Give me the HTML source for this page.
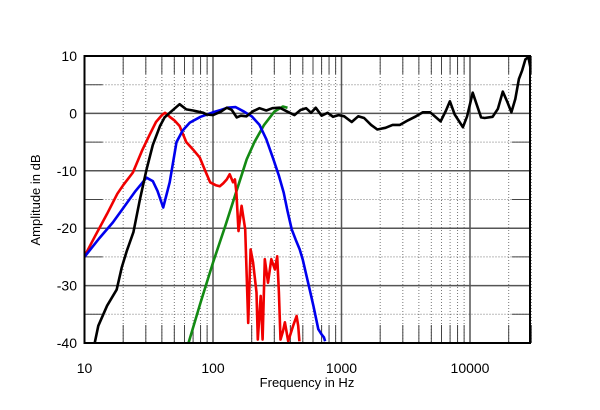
<!DOCTYPE html>
<html><head><meta charset="utf-8"><style>
html,body{margin:0;padding:0;background:#fff;}
svg{display:block;font-family:"Liberation Sans",Arial,sans-serif;}
</style></head><body>
<svg id="chart" width="600" height="410" viewBox="0 0 600 410"></svg>
<script>
const xTicks=[10,100,1000,10000];
const xTickLabels=["10","100","1000","10000"];
const yTicks=[10,0,-10,-20,-30,-40];
const yTickLabels=["10","0","-10","-20","-30","-40"];
const blackF=[12,12.8,15,17.8,19.5,21.3,24,27,30.4,34,38.7,42,46,50,55,62,70,84,89,100,115,128,140,153,165,182,206,230,260,290,330,380,430,480,530,580,630,700,780,860,950,1050,1200,1350,1500,1700,1900,2200,2500,2850,3300,3800,4300,4900,5900,6500,6980,7600,8800,9500,10500,11300,12200,13000,15000,16500,18000,19500,21000,22500,24000,25500,27000,28500,29500,30000];
const blackV=[-40,-37,-33.5,-30.7,-26.8,-24,-20.7,-15,-9.8,-5.5,-2.2,-0.7,0.1,0.8,1.6,0.7,0.5,0.1,-0.2,-0.3,0.3,1.0,0.6,-0.7,-0.4,-0.5,0.4,0.9,0.5,0.9,1.0,0.3,-0.3,0.6,0.9,0.1,1.0,-0.4,0.1,-0.6,-0.3,-0.5,-1.5,-0.5,-0.8,-2.0,-2.8,-2.5,-2.0,-2.0,-1.2,-0.5,0.2,0.2,-1.4,0.5,2.1,-0.2,-2.4,-0.5,3.6,1.5,-0.7,-0.8,-0.6,0.8,3.8,2.0,0.2,2.5,6.0,7.5,9.4,9.8,8.0,3.8];
const redF=[10,12,15,18,20,23.8,28,32,36,40,42.3,46,50,55,62,70,79,87,95,105,113,120,128,135,143,148,152,158,167,178,183,188,196,205,218,223,235,243,253,268,284,303,316,326,335,350,363,385,420,447,460,470];
const redV=[-24.9,-21.5,-17.5,-14,-12.5,-10.3,-6.5,-3.8,-1.5,-0.3,0.1,-0.6,-1.2,-2.2,-5,-6.3,-7.7,-10,-12,-12.5,-12.7,-12.2,-11.5,-10.6,-12,-11.5,-13.8,-20.5,-16.1,-20.2,-28.3,-36.5,-23.7,-26,-31.2,-39.4,-31.8,-39.4,-25.4,-29.5,-25.4,-27.2,-24.9,-31.2,-39.4,-38,-36.4,-39.7,-37,-35.3,-37,-39.7];
const blueF=[10,13,16.6,20,25,30.4,34,37,41,46,52,58,66,80,100,115,130,150,175,200,230,260,295,325,355,380,410,440,473,500,534,570,605,660,700,730,745];
const blueV=[-25,-21.8,-19,-16.5,-13.5,-11.2,-11.8,-13.5,-16.4,-12,-5,-3,-1.6,-0.6,0.2,0.6,1.0,1.1,0.3,-0.5,-2,-4.5,-8,-10.8,-13.8,-17,-20.2,-22,-23.7,-25.5,-28.3,-31,-33.6,-37.6,-38.5,-39,-39.7];
const greenF=[64.5,80,100,125,150,183,210,250,300,350,380];
const greenV=[-40,-33,-26,-19.5,-14,-8,-5,-2,0.3,1.2,1.0];

const L=84.5,R=530,T=56,B=343,DEC=128.5;
const xs=f=>L+(Math.log10(f)-1)*DEC;
const ys=v=>T+(10-v)*(B-T)/50;
const NS="http://www.w3.org/2000/svg";
const svg=document.getElementById('chart');
function mk(tag,attrs,parent){const e=document.createElementNS(NS,tag);for(const k in attrs)e.setAttribute(k,attrs[k]);(parent||svg).appendChild(e);return e;}

const grid=mk('g',{});


// minor verticals
for(let d=10;d<=10000;d*=10){for(let m=2;m<=9;m++){const f=d*m;if(f>30000)break;const x=xs(f);
 mk('line',{x1:x,x2:x,y1:T,y2:B,stroke:'#777','stroke-width':1,'stroke-dasharray':'1,2'},grid);
 mk('line',{x1:x,x2:x,y1:T,y2:T+18,stroke:'#444','stroke-width':1},grid);
 mk('line',{x1:x,x2:x,y1:B-18,y2:B,stroke:'#444','stroke-width':1},grid);}}
// half-decade horizontals dotted
for(let v=5;v>-40;v-=10){const y=ys(v);
 mk('line',{x1:L,x2:R,y1:y,y2:y,stroke:'#777','stroke-width':1,'stroke-dasharray':'1,2'},grid);
 mk('line',{x1:L,x2:L+18,y1:y,y2:y,stroke:'#444','stroke-width':1},grid);
 mk('line',{x1:R-18,x2:R,y1:y,y2:y,stroke:'#444','stroke-width':1},grid);}
// major lines
xTicks.forEach(f=>{const x=xs(f);mk('line',{x1:x,x2:x,y1:T,y2:B,stroke:'#555','stroke-width':1.5},grid);});
yTicks.forEach(v=>{const y=ys(v);mk('line',{x1:L,x2:R,y1:y,y2:y,stroke:'#555','stroke-width':1.5},grid);});

function series(F,V,color,name){
 const d=F.map((f,i)=>(i?'L':'M')+xs(f).toFixed(1)+','+ys(V[i]).toFixed(1)).join('');
 const p=mk('path',{d:d,fill:'none',stroke:color,'stroke-width':2.6,'stroke-linejoin':'round','clip-path':'url(#clip)'});
 
 
}
const defs=mk('defs',{});
const cp=mk('clipPath',{id:'clip'},defs);
mk('rect',{x:L,y:T-2,width:R-L,height:B-T+2},cp);
series(greenF,greenV,'#138a13','series-green');
series(redF,redV,'#f00000','series-red');
series(blueF,blueV,'#0000ee','series-blue');
series(blackF,blackV,'#000','series-black');

const frame=mk('rect',{x:L,y:T,width:R-L,height:B-T,fill:'none',stroke:'#000','stroke-width':2});



xTicks.forEach((f,i)=>{const t=mk('text',{x:xs(f),y:373,'text-anchor':'middle','font-size':14});t.textContent=xTickLabels[i];
 
 });
yTicks.forEach((v,i)=>{const t=mk('text',{x:77,y:ys(v)+5,'text-anchor':'end','font-size':14});t.textContent=yTickLabels[i];
 
 });
const xt=mk('text',{x:307,y:387,'text-anchor':'middle','font-size':13});xt.textContent='Frequency in Hz';


const yt=mk('text',{x:0,y:0,'text-anchor':'middle','font-size':13,transform:'translate(40,200) rotate(-90)'});yt.textContent='Amplitude in dB';


</script>
</body></html>
